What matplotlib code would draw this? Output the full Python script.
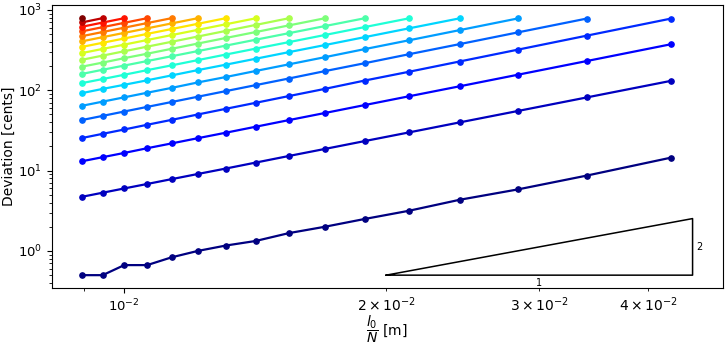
import numpy as np
import matplotlib
matplotlib.use("Agg")
import matplotlib.pyplot as plt

# x positions: l0/N, with l0 = 0.17 m and N = 19 ... 4
l0 = 0.17
N = [19, 18, 17, 16, 15, 14, 13, 12, 11, 10, 9, 8, 7, 6, 5, 4]

# deviation in cents for each mode (starting at N=19)
dev = [
    [0.5, 0.5, 0.667, 0.667, 0.833, 1.0, 1.167, 1.333, 1.667, 2.0, 2.5, 3.167, 4.333, 5.833, 8.667, 14.5],
    [4.73, 5.31, 6.0, 6.82, 7.83, 9.07, 10.6, 12.6, 15.2, 18.6, 23.3, 29.9, 39.8, 55.2, 81.4, 131],
    [13.1, 14.7, 16.6, 19.0, 21.8, 25.3, 29.6, 35.2, 42.5, 52.1, 65.4, 84.2, 112, 156, 231, 374],
    [25.5, 28.7, 32.5, 37.2, 42.8, 49.9, 58.7, 69.9, 84.6, 104, 132, 170, 228, 320, 478, 780],
    [42.7, 48.0, 54.4, 62.1, 71.4, 83.0, 97.5, 116, 140, 173, 217, 281, 375, 525, 780],
    [64.2, 72.2, 81.7, 93.2, 107, 125, 146, 174, 210, 258, 325, 419, 560, 783],
    [92.3, 104, 117, 133, 153, 178, 208, 247, 298, 365, 458, 590, 785],
    [123, 138, 156, 178, 204, 237, 278, 330, 397, 487, 611, 786],
    [160, 180, 203, 231, 265, 307, 359, 426, 513, 629, 787],
    [197, 221, 251, 285, 328, 381, 447, 531, 641, 787],
    [240, 270, 306, 349, 401, 466, 547, 651, 787],
    [291, 327, 370, 422, 486, 564, 662, 787],
    [347, 390, 441, 503, 578, 671, 788],
    [407, 458, 518, 590, 679, 788],
    [472, 531, 601, 686, 789],
    [542, 610, 691, 789],
    [618, 696, 789],
    [700, 790],
    [790],
]

# slope-2 triangle
tri_x = [0.02, 0.045, 0.045, 0.02]
tri_y = [0.5, 0.5, 2.53, 0.5]

plt.rcParams['font.size'] = 10
fig = plt.figure(figsize=(7.26, 3.46), dpi=100)
ax = fig.add_axes([0.0712, 0.1676, 0.9248, 0.8171])

colors = plt.cm.jet(np.linspace(0, 1, len(dev)))
for i, d in enumerate(dev):
    x = [l0 / n for n in N[:len(d)]]
    ax.plot(x, d, '-o', color=colors[i], lw=1.6, ms=3.8)

ax.plot(tri_x, tri_y, color='black', lw=1.1)
ax.text(np.sqrt(tri_x[0] * tri_x[1]), tri_y[0] * 0.93, '1', ha='center', va='top', fontsize=7)
ax.text(tri_x[1] * 1.01, np.sqrt(tri_y[1] * tri_y[2]), '2', ha='left', va='center', fontsize=7)

ax.set_xscale('log')
ax.set_yscale('log')
ax.set_xlabel(r'$\dfrac{l_0}{N}$ [m]', labelpad=-0.5)
ax.set_ylabel('Deviation [cents]', labelpad=1)
ax.tick_params(labelsize=9.5)

fig.savefig('out.png', dpi=100)
